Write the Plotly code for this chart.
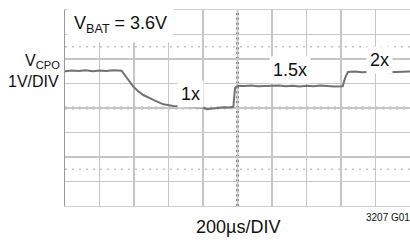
import plotly.graph_objects as go

# time in divisions (0..10), voltage in divisions (center = 0)
t_div = [0, 0.2, 0.4, 0.6, 0.8, 1.0, 1.2, 1.4, 1.64,
         1.79, 1.98, 2.12, 2.27, 2.56, 2.85, 3.14, 3.43, 3.62, 3.82, 4.0, 4.11, 4.25, 4.40, 4.6, 4.75, 4.88,
         4.93, 5.02,
         5.2, 5.4, 5.6, 5.8, 6.0, 6.2, 6.4, 6.6, 6.8, 7.0, 7.2, 7.4, 7.6, 7.8, 8.05,
         8.12, 8.2,
         8.4, 8.6, 8.8, 9.0, 9.2, 9.4, 9.6, 9.8, 10.0]
v_div = [1.50, 1.53, 1.51, 1.54, 1.50, 1.53, 1.51, 1.54, 1.52,
         1.21, 0.87, 0.68, 0.53, 0.33, 0.15, 0.08, 0.05, 0.03, 0.01, 0.02, -0.05, -0.02, 0.01, 0.03, 0.02, 0.05,
         0.82, 0.91,
         0.90, 0.92, 0.89, 0.91, 0.90, 0.92, 0.89, 0.91, 0.88, 0.91, 0.89, 0.92, 0.90, 0.88, 0.89,
         1.23, 1.47,
         1.49, 1.46, 1.48, 1.47, 1.49, 1.46, 1.48, 1.47, 1.49]

mode_labels = ["1x", "1.5x", "2x"]
mode_label_x = [3.65, 6.52, 9.13]
mode_label_y = [0.57, 1.55, 1.96]

FONT = "Liberation Sans, Arial, Helvetica, sans-serif"
GRID = "#c6c6c6"

fig = go.Figure()
fig.add_trace(go.Scatter(x=t_div, y=v_div, mode="lines",
                         line=dict(color="#727272", width=2),
                         hoverinfo="skip", showlegend=False))

fig.update_xaxes(range=[0, 10], dtick=1, tick0=0, showgrid=True, gridcolor=GRID, gridwidth=1.5,
                 zeroline=False, showticklabels=False, ticks="",
                 showline=True, linecolor="#d0d0d0", linewidth=1, mirror=True)
fig.update_yaxes(range=[-4, 4], dtick=1, tick0=0, showgrid=True, gridcolor=GRID, gridwidth=1.5,
                 zeroline=False, showticklabels=False, ticks="",
                 showline=True, linecolor="#9a9a9a", linewidth=1.5)

shapes = []
for yc in (2.5, -2.5):
    shapes.append(dict(type="line", xref="x", yref="y", x0=0, x1=10, y0=yc, y1=yc,
                       line=dict(color="#c4c4c4", width=1.5, dash="2px,5px"), layer="below"))
shapes.append(dict(type="line", xref="x", yref="y", x0=0, x1=10, y0=0, y1=0,
                   line=dict(color="#a8a8a8", width=1.5), layer="below"))
shapes.append(dict(type="line", xref="x", yref="y", x0=5, x1=5, y0=-4, y1=4,
                   line=dict(color="#a8a8a8", width=1.5), layer="below"))
shapes.append(dict(type="line", xref="x", yref="y", x0=0, x1=10, y0=0, y1=0,
                   line=dict(color="#555555", width=2.5, dash="2px,4.9px"), layer="below"))
shapes.append(dict(type="line", xref="x", yref="y", x0=5, x1=5, y0=-4, y1=4,
                   line=dict(color="#666666", width=2.5, dash="2px,2.9px"), layer="below"))

annotations = []
annotations.append(dict(x=1.6, y=3.42, xref="x", yref="y", text="V<sub>BAT</sub> = 3.6V",
                        showarrow=False, font=dict(family=FONT, size=18, color="#111"),
                        bgcolor="white", borderpad=6, xanchor="center", yanchor="middle"))
for lab, lx, ly in zip(mode_labels, mode_label_x, mode_label_y):
    annotations.append(dict(x=lx, y=ly, xref="x", yref="y", text=lab, showarrow=False,
                            font=dict(family=FONT, size=18, color="#111"),
                            bgcolor="white", borderpad=3, xanchor="center", yanchor="middle"))
annotations.append(dict(x=0, y=1.88, xref="paper", yref="y", text="V<sub>CPO</sub>",
                        showarrow=False, xanchor="right", yanchor="middle", xshift=-3,
                        font=dict(family=FONT, size=16, color="#111")))
annotations.append(dict(x=0, y=1.08, xref="paper", yref="y", text="1V/DIV",
                        showarrow=False, xanchor="right", yanchor="middle", xshift=-4,
                        font=dict(family=FONT, size=16, color="#111")))
annotations.append(dict(x=0.5, y=-4, xref="paper", yref="y", text="200µs/DIV",
                        showarrow=False, xanchor="center", yanchor="top", yshift=-9,
                        font=dict(family=FONT, size=18, color="#111")))
annotations.append(dict(x=1.005, y=-4, xref="paper", yref="y", text="3207 G01",
                        showarrow=False, xanchor="right", yanchor="top", yshift=-4,
                        font=dict(family=FONT, size=10, color="#111")))

fig.update_layout(width=410, height=240, margin=dict(l=65, r=0, t=10, b=34),
                  paper_bgcolor="white", plot_bgcolor="white",
                  shapes=shapes, annotations=annotations, showlegend=False)

fig.write_html("out.html", config={"displayModeBar": False, "staticPlot": True})

# remove the default page margin so the figure sits at the window origin
with open("out.html", "r", encoding="utf-8") as f:
    html = f.read()
html = html.replace("<body>", '<body style="margin:0;padding:0;overflow:hidden">', 1)
with open("out.html", "w", encoding="utf-8") as f:
    f.write(html)
